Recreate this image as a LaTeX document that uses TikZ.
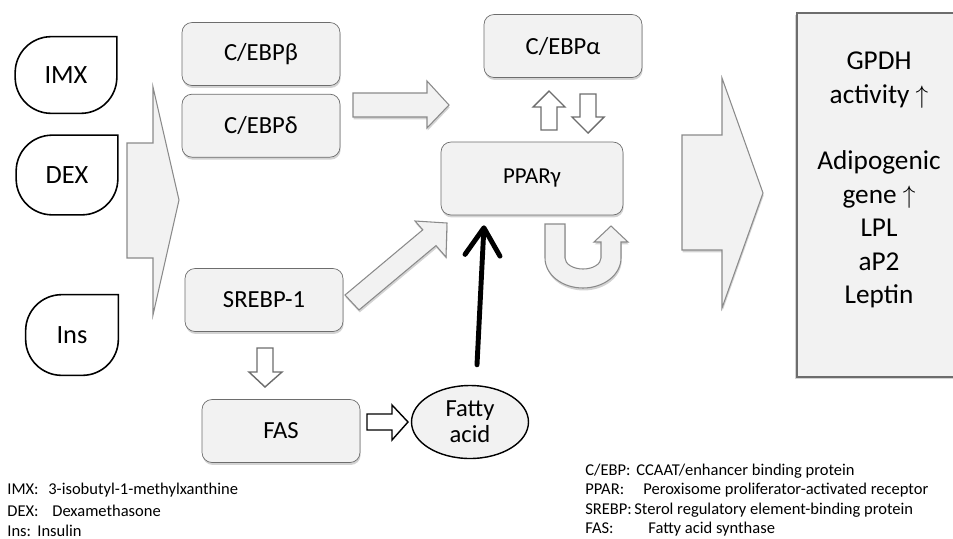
\documentclass[tikz,border=0pt]{standalone}
\usepackage{fontspec}
\setmainfont{Carlito}
\usetikzlibrary{shapes,arrows.meta,positioning,shadows}

\definecolor{boxfill}{HTML}{F2F2F2}
\definecolor{boxline}{HTML}{6D6D6D}
\definecolor{arrline}{HTML}{8A8A8A}

\tikzset{
  box/.style={draw=boxline, fill=boxfill, rounded corners=0.2cm, minimum width=3.16cm,
    minimum height=1.26cm, font=\fontsize{14}{16}\selectfont,
    drop shadow={shadow xshift=0.4pt, shadow yshift=-1.4pt, opacity=0.35}},
  agent/.style={minimum width=2.02cm, minimum height=1.52cm, inner sep=0pt,
    font=\fontsize{15}{17}\selectfont},
  tear/.style={draw=black, line width=0.9pt},
  blk/.style={draw=arrline, fill=boxfill, line width=0.6pt},
  blkshadow/.style={blk, drop shadow={shadow xshift=0.4pt, shadow yshift=-1.4pt, opacity=0.35}},
  hollow/.style={draw=boxline, fill=white, line width=0.8pt},
  fatarrow/.style={line width=2.8pt, line cap=round,
    -{Straight Barb[length=0.55cm, width=0.7cm, round]}},
  legend/.style={anchor=base west, inner sep=0pt, font=\fontsize{9.4}{11}\selectfont}
}

\begin{document}
\begin{tikzpicture}[x=0.02cm, y=-0.02cm]
	\clip (0,0) rectangle (953,538);
	% inducers
	\node[agent] (imx) at (66,75) {IMX};
	\node[agent, minimum height=1.58cm] (dex) at (67,175) {DEX};
	\node[agent, minimum width=1.84cm, minimum height=1.6cm] (ins) at (72,335) {Ins};
	\foreach \n in {imx,dex,ins}
		\draw[tear] (\n.north) [rounded corners=0.72cm] -- (\n.north west) -- (\n.south west)
			-- (\n.south east) [sharp corners] -- (\n.north east) -- cycle;
	\filldraw[blk] (127,143) -- (153,143) -- (153,87) -- (179,200) -- (153,315) -- (153,258) -- (127,258) -- cycle;

	% transcription factors
	\node[box] (cebpb) at (261,54) {C/EBPβ};
	\node[box, below=0.16cm of cebpb] (cebpd) {C/EBPδ};
	\node[box] (cebpa) at (563,46) {C/EBPα};
	\node[box, minimum width=3.64cm, minimum height=1.46cm, font=\fontsize{13}{15}\selectfont] (ppar) at (532,178.5) {PPARγ};
	\node[box] (srebp) at (264,300) {SREBP-1};
	\node[box] (fas) at (281,431) {FAS};
	\node[ellipse, draw=black, fill=boxfill, line width=0.8pt, minimum width=2.34cm, minimum height=1.46cm,
		inner sep=0pt, align=center, font=\fontsize{14}{14.8}\selectfont] (fa) at (470,422) {Fatty\\acid};

	% block arrows
	\filldraw[blkshadow] (353,93) -- (427,93) -- (427,81) -- (449,105) -- (427,128) -- (427,117) -- (353,117) -- cycle;
	\filldraw[blkshadow] (345,295) -- (422.8,229.8) -- (415,221) -- (447,223) -- (446,257) -- (436,245.6) -- (359,310) -- cycle;
	\filldraw[hollow] (541,130) -- (541,107) -- (533,107) -- (549,91) -- (565,107) -- (557,107) -- (557,130) -- cycle;
	\filldraw[hollow] (580,94) -- (596,94) -- (596,117) -- (604,117) -- (588,133) -- (572,117) -- (580,117) -- cycle;
	\filldraw[blkshadow] (545,224) -- (545,258) .. controls (545,274.6) and (562,288) .. (583,288)
		.. controls (604,288) and (621,274.6) .. (621,258) -- (621,242) -- (628,242) -- (611,226) -- (594,242)
		-- (601,242) -- (601,258) .. controls (601,264) and (593,269) .. (583,269)
		.. controls (573,269) and (565,264) .. (565,258) -- (565,224) -- cycle;
	\filldraw[hollow] (257,348) -- (273,348) -- (273,372) -- (282,372) -- (265,387) -- (249,372) -- (257,372) -- cycle;
	\filldraw[hollow, draw=black] (367,414) -- (392,414) -- (392,405) -- (408,422) -- (392,440) -- (392,430) -- (367,430) -- cycle;
	\draw[fatarrow] ([xshift=0.14cm, yshift=0.4cm]fa.north) -- ([xshift=-0.96cm, yshift=-0.2cm]ppar.south);

	% outcome
	\filldraw[blkshadow] (682,135) -- (722,135) -- (722,78) -- (763,193) -- (722,308) -- (722,250) -- (682,250) -- cycle;
	\filldraw[draw=boxline, fill=boxfill, line width=0.8pt, drop shadow={shadow xshift=-1pt, shadow yshift=-1.4pt, opacity=0.35}]
		(797,13) rectangle (990,377);
	\node[align=center, font=\fontsize{15.5}{19}\selectfont] (res) at (879,180)
		{GPDH\\activity $\uparrow$\\[19pt]Adipogenic\\gene $\uparrow$\\LPL\\aP2\\Leptin};

	% abbreviations
	\foreach \ab/\tx/\dx/\yy [count=\i] in {{IMX:}/{3-isobutyl-1-methylxanthine}/48/494,
		{DEX:}/{Dexamethasone}/52/516,
		{Ins:}/{Insulin}/37/536} {
		\node[legend] (lab\i) at (7,\yy) {\ab};
		\node[legend] (ldef\i) at (\dx,\yy) {\tx};
	}
	\foreach \ab/\tx/\dx/\yy [count=\i] in {{C/EBP:}/{CCAAT/enhancer binding protein}/636/475,
		{PPAR:}/{Peroxisome proliferator-activated receptor}/643/494,
		{SREBP:}/{Sterol regulatory element-binding protein}/634/514,
		{FAS:}/{Fatty acid synthase}/648/533} {
		\node[legend] (ab\i) at (585,\yy) {\ab};
		\node[legend] (def\i) at (\dx,\yy) {\tx};
	}
\end{tikzpicture}
\end{document}
